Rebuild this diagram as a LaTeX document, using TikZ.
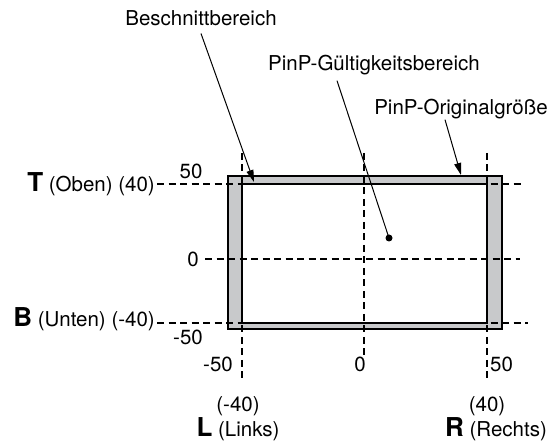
\documentclass[tikz,border=0pt]{standalone}
\usepackage{fontspec}
\setmainfont{TeX Gyre Heros}
\usetikzlibrary{arrows.meta}
\definecolor{bandgray}{RGB}{200,201,203}
\newcommand{\sidelbl}[1]{{\fontsize{26}{26}\selectfont\bfseries #1}}

\begin{document}
\begin{tikzpicture}[>={Triangle[length=12pt,width=7pt]}, x=1pt, y=1pt, font=\fontsize{20.5}{24}\selectfont,
  guide/.style={line width=1.2pt, dash pattern=on 7pt off 4.5pt},
  frame/.style={line width=2pt},
  lead/.style={line width=1pt},
  txt/.style={inner sep=0pt}]
  \useasboundingbox (0,0) rectangle (557,443);
  % ---------------------------------------------------------------- original size and valid area
  \fill[bandgray] (228,114) rectangle (502,267);
  \fill[white] (242,120) rectangle (487,259);
  \draw[frame] (228,114) rectangle (502,267);
  \draw[frame] (242,120) rectangle (487,259);
  % ---------------------------------------------------------------- guides
  \draw[guide] (157,259) -- (525,259);
  \draw[guide] (205,184) -- (520,184);
  \draw[guide] (157,120) -- (528,120);
  \draw[guide] (242,290) -- (242,60);
  \draw[guide] (364,290) -- (364,88);
  \draw[guide] (487,290) -- (487,60);
  % ---------------------------------------------------------------- vertical scale
  \node[txt, anchor=base east] (top) at (155,251) {\sidelbl{T} (Oben) (40)};
  \node[txt, anchor=base east] (bottom) at (155,116) {\sidelbl{B} (Unten) (-40)};
  \node[txt] (ymax) at (191,271.5) {50};
  \node[txt] (ymid) at (193,184) {0};
  \node[txt] (ymin) at (188,106) {-50};
  % ---------------------------------------------------------------- horizontal scale
  \node[txt, anchor=east] (xmin) at (233,79) {-50};
  \node[txt] (xmid) at (360,79) {0};
  \node[txt, anchor=west] (xmax) at (490,79) {50};
  \node[txt] (lpos) at (238,37) {(-40)};
  \node[txt] (rpos) at (487,37) {(40)};
  \node[txt, anchor=base] (left) at (238,6) {\sidelbl{L} (Links)};
  \node[txt, anchor=base] (right) at (496,6) {\sidelbl{R} (Rechts)};
  % ---------------------------------------------------------------- callouts
  \node[txt, anchor=base] (crop) at (201,417) {Beschnittbereich};
  \node[txt, anchor=base] (valid) at (374,372) {PinP-Gültigkeitsbereich};
  \node[txt, anchor=base] (orig) at (461,328) {PinP-Originalgröße};
  \coordinate (croptip) at (254,261);
  \coordinate (origtip) at (461,268);
  \coordinate (spot) at (389,205);
  \draw[lead, ->] ([yshift=-7pt]crop.south) -- (croptip);
  \draw[lead] ([xshift=-37pt,yshift=-5pt]valid.south) -- (spot);
  \fill (spot) circle (3.5pt);
  \draw[lead, ->] ([xshift=-16pt]orig.south) -- (origtip);
\end{tikzpicture}
\end{document}
